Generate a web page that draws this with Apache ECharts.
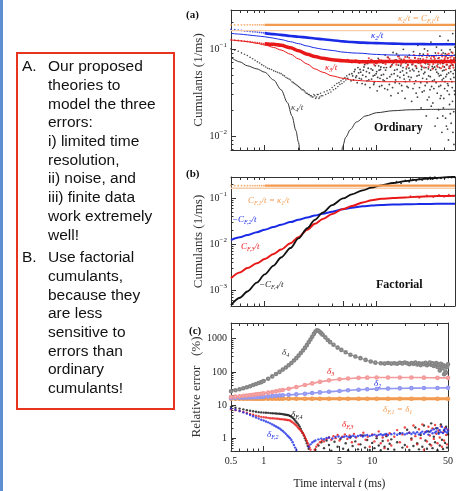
<!DOCTYPE html>
<html>
<head>
<meta charset="utf-8">
<script src="https://cdn.jsdelivr.net/npm/echarts@6/dist/echarts.min.js"></script>
<style>
  html, body { margin: 0; padding: 0; background: #fff; }
  #chart { width: 456px; height: 491px; }
</style>
</head>
<body>
<div id="chart"></div>
<script>
// ---- time axis (ms) ----
const xTickValues = [0.5, 1, 5, 10, 50];
const xMinorValues = [0.6, 0.7, 0.8, 0.9, 2, 3, 4, 6, 7, 8, 9, 20, 30, 40];

// shared sampling of the smooth curves
const tGrid = [0.5, 0.6, 0.7, 0.85, 1, 1.2, 1.4, 1.7, 2, 2.4, 2.8, 3.3, 4, 5, 6, 7.5, 9, 11, 14, 18, 23, 30, 40, 50];
// sparse data points at short t (look dotted on the log axis)
const tDots = [0.5, 0.54, 0.58, 0.62, 0.66, 0.7, 0.74, 0.78, 0.82, 0.86, 0.9, 0.94, 0.98];

// ---- (a) ordinary cumulants ----
const k1DotsA = [0.189, 0.189, 0.189, 0.189, 0.189, 0.189, 0.189, 0.189, 0.189, 0.189, 0.189, 0.189, 0.189];
const k1DataA = [null, null, null, null, 0.189, 0.189, 0.189, 0.189, 0.189, 0.189, 0.189, 0.189, 0.189, 0.189, 0.189, 0.189, 0.189, 0.189, 0.189, 0.189, 0.189, 0.189, 0.189, 0.189];
const k1TheoryA = [0.162, 0.162, 0.162, 0.162, 0.162, 0.162, 0.162, 0.162, 0.162, 0.162, 0.162, 0.162, 0.162, 0.162, 0.162, 0.162, 0.162, 0.162, 0.162, 0.162, 0.162, 0.162, 0.162, 0.162];
const k2DotsA = [0.168, 0.166, 0.164, 0.163, 0.161, 0.160, 0.159, 0.158, 0.157, 0.156, 0.155, 0.154, 0.153];
const k2DataA = [null, null, null, null, 0.152, 0.148, 0.145, 0.141, 0.138, 0.135, 0.132, 0.129, 0.126, 0.122, 0.120, 0.118, 0.117, 0.116, 0.115, 0.114, 0.114, 0.113, 0.113, 0.113];
const k2TheoryA = [0.151, 0.148, 0.145, 0.141, 0.138, 0.133, 0.128, 0.121, 0.115, 0.108, 0.103, 0.099, 0.096, 0.092, 0.090, 0.089, 0.087, 0.086, 0.085, 0.085, 0.084, 0.084, 0.084, 0.084];
const k3DotsA = [0.127, 0.126, 0.125, 0.124, 0.123, 0.122, 0.121, 0.120, 0.119, 0.118, 0.117, 0.116, 0.115];
const k3DataA = [null, null, null, null, 0.115, 0.113, 0.110, 0.103, 0.095, 0.087, 0.082, 0.078, 0.075, 0.073, 0.072, 0.071, 0.071, 0.0715, 0.0715, 0.0715, 0.0715, 0.0715, 0.0715, 0.0715];
const k3TheoryA = [0.127, 0.124, 0.121, 0.116, 0.111, 0.104, 0.097, 0.087, 0.077, 0.067, 0.059, 0.054, 0.049, 0.046, 0.044, 0.043, 0.0425, 0.042, 0.042, 0.042, 0.042, 0.042, 0.042, 0.042];
const k3NoiseA = [[8.5, 0.078], [9.5, 0.066], [10.5, 0.075], [11.5, 0.069], [12.5, 0.080], [13.5, 0.064], [14.5, 0.074], [15.5, 0.082], [16.5, 0.067], [17.5, 0.076], [18.5, 0.062], [19.5, 0.079], [20.5, 0.070], [21.5, 0.085], [22.5, 0.063], [23.5, 0.077], [24.5, 0.068], [25.5, 0.083], [26.5, 0.061], [27.5, 0.074], [28.5, 0.087], [29.5, 0.066], [30.5, 0.078], [31.5, 0.059], [32.5, 0.081], [33.5, 0.070], [34.5, 0.064], [35.5, 0.089], [36.5, 0.073], [37.5, 0.060], [38.5, 0.082], [39.5, 0.069], [40.5, 0.077], [41.5, 0.058], [42.5, 0.086], [43.5, 0.071], [44.5, 0.063], [45.5, 0.080], [46.5, 0.067], [47.5, 0.090], [48.5, 0.061], [49.5, 0.076],
  [5.5, 0.075], [6, 0.070], [6.5, 0.074], [7, 0.069], [7.5, 0.073], [8, 0.068], [9, 0.075], [10, 0.068], [11, 0.074], [12, 0.067], [13, 0.077], [14, 0.069], [15, 0.066], [16, 0.078], [17, 0.070], [18, 0.081], [19, 0.065], [20, 0.074], [21, 0.067], [22, 0.079], [23, 0.071], [24, 0.084], [25, 0.064], [26, 0.076], [27, 0.069], [28, 0.080], [29, 0.062], [30, 0.073], [31, 0.083], [32, 0.067], [33, 0.077], [34, 0.084], [35, 0.062], [36, 0.079], [37, 0.068], [38, 0.086], [39, 0.063], [40, 0.074], [41, 0.081], [42, 0.066], [43, 0.078], [44, 0.088], [45, 0.060], [46, 0.075], [47, 0.083], [48, 0.065], [49, 0.079], [50, 0.070]];
const k4TheoryLeftT = [0.5, 0.6, 0.7, 0.85, 1.0, 1.2, 1.4, 1.6, 1.75, 1.9, 2.0, 2.1, 2.2];
const k4TheoryLeft = [0.080, 0.071, 0.064, 0.059, 0.054, 0.044, 0.034, 0.024, 0.017, 0.0115, 0.0085, 0.0055, 0.003];
const k4TheoryRightT = [4.7, 4.8, 4.95, 5.3, 5.8, 6.6, 8, 10, 14, 20, 30, 50];
const k4TheoryRight = [0.0025, 0.005, 0.0075, 0.0097, 0.0118, 0.0145, 0.0170, 0.0185, 0.0195, 0.0200, 0.0202, 0.0203];
const k4TrendA = [[0.5, 0.100], [0.54, 0.097], [0.58, 0.094], [0.62, 0.090], [0.66, 0.087], [0.7, 0.084], [0.74, 0.080], [0.78, 0.077], [0.82, 0.074], [0.86, 0.071], [0.9, 0.069], [0.94, 0.066], [0.98, 0.064], [1.02, 0.062], [1.06, 0.060], [1.1, 0.059], [1.15, 0.058], [1.2, 0.056], [1.25, 0.055], [1.3, 0.054], [1.35, 0.053], [1.4, 0.052], [1.45, 0.050], [1.5, 0.049], [1.55, 0.047], [1.6, 0.046], [1.65, 0.045], [1.7, 0.044], [1.75, 0.042], [1.8, 0.041], [1.85, 0.040], [1.9, 0.039], [1.95, 0.038], [2.0, 0.037], [2.05, 0.036], [2.1, 0.035], [2.15, 0.034], [2.2, 0.034], [2.25, 0.033], [2.3, 0.032], [2.35, 0.031], [2.4, 0.031], [2.45, 0.030], [2.5, 0.030], [2.55, 0.029], [2.6, 0.029], [2.65, 0.028], [2.7, 0.028], [2.75, 0.030], [2.8, 0.029], [2.85, 0.027], [2.9, 0.028], [2.95, 0.030], [3.0, 0.030], [3.05, 0.027], [3.1, 0.028], [3.15, 0.031], [3.2, 0.029], [3.3, 0.029], [3.4, 0.032], [3.5, 0.030], [3.6, 0.033], [3.7, 0.031], [3.8, 0.034], [3.9, 0.032], [4.0, 0.036], [4.1, 0.034], [4.2, 0.038], [4.3, 0.035], [4.4, 0.040], [4.5, 0.037], [4.6, 0.041], [4.7, 0.039], [4.8, 0.043], [4.9, 0.040], [5.0, 0.045], [5.1, 0.042], [5.2, 0.047], [5.3, 0.044], [5.4, 0.049]];
const k4CloudA = [[5.5, 0.046], [5.7, 0.051], [5.9, 0.043], [6.1, 0.049], [6.3, 0.055], [6.5, 0.047], [6.7, 0.041], [6.9, 0.053], [7.1, 0.058], [7.3, 0.045], [7.5, 0.050], [7.7, 0.062], [7.9, 0.039],
  [8.1, 0.055], [8.3, 0.068], [8.5, 0.044], [8.7, 0.036], [8.9, 0.059], [9.1, 0.071], [9.3, 0.049], [9.5, 0.041], [9.7, 0.064], [9.9, 0.052], [10.1, 0.033], [10.3, 0.078], [10.5, 0.057], [10.7, 0.046], [10.9, 0.062], [11.1, 0.038], [11.3, 0.069], [11.5, 0.051], [11.7, 0.043], [11.9, 0.085],
  [12.2, 0.061], [12.5, 0.034], [12.8, 0.072], [13.1, 0.048], [13.4, 0.029], [13.7, 0.066], [14, 0.091], [14.3, 0.052], [14.6, 0.041], [14.9, 0.075], [15.2, 0.058], [15.5, 0.031], [15.8, 0.083], [16.1, 0.047], [16.4, 0.064], [16.7, 0.038], [17, 0.056], [17.3, 0.099], [17.6, 0.045], [17.9, 0.027], [18.2, 0.069], [18.5, 0.053], [18.8, 0.081], [19.1, 0.036], [19.4, 0.060], [19.7, 0.044],
  [20.1, 0.072], [20.5, 0.025], [20.9, 0.058], [21.3, 0.093], [21.7, 0.040], [22.1, 0.064], [22.5, 0.031], [22.9, 0.049], [23.3, 0.110], [23.7, 0.055], [24.1, 0.036], [24.5, 0.077], [24.9, 0.021], [25.3, 0.062], [25.7, 0.046], [26.1, 0.087], [26.5, 0.033], [26.9, 0.054], [27.3, 0.068], [27.7, 0.017], [28.1, 0.041], [28.5, 0.095], [28.9, 0.059], [29.3, 0.028], [29.7, 0.071], [30.1, 0.048], [30.5, 0.120], [30.9, 0.037], [31.3, 0.063], [31.7, 0.024],
  [32.2, 0.082], [32.7, 0.044], [33.2, 0.013], [33.5, 0.071], [33.7, 0.058], [34.2, 0.105], [34.7, 0.031], [35.2, 0.067], [35.5, 0.052], [35.7, 0.020], [36.2, 0.049], [36.7, 0.140], [37.2, 0.038], [37.5, 0.029], [37.7, 0.074], [38.2, 0.011], [38.7, 0.056], [38.9, 0.017], [39.2, 0.090], [39.5, 0.046], [39.7, 0.027], [40.2, 0.062], [40.7, 0.042], [41.2, 0.016], [41.5, 0.083], [41.7, 0.115], [42.2, 0.051], [42.7, 0.033], [42.9, 0.012], [43.2, 0.079], [43.5, 0.038], [43.7, 0.009], [44.2, 0.060], [44.7, 0.023], [45.2, 0.098], [45.5, 0.064], [45.7, 0.045], [46.2, 0.014], [46.7, 0.070], [47.2, 0.036], [47.5, 0.025], [47.7, 0.150], [48.2, 0.052], [48.7, 0.019], [48.9, 0.008], [49.2, 0.085], [49.5, 0.057], [49.7, 0.030],
  [6.0, 0.052], [6.2, 0.044], [6.4, 0.058], [6.6, 0.049], [6.8, 0.061], [7.0, 0.046], [7.2, 0.054], [7.4, 0.040], [7.6, 0.057], [7.8, 0.066], [8.0, 0.048], [8.2, 0.043], [8.4, 0.060], [8.6, 0.053], [8.8, 0.074], [9.0, 0.045], [9.2, 0.057], [9.4, 0.039], [9.6, 0.050], [9.8, 0.069], [10.0, 0.055], [10.2, 0.047], [10.4, 0.064], [10.6, 0.037], [10.8, 0.058], [11.0, 0.050], [11.2, 0.073], [11.4, 0.044], [11.6, 0.061], [11.8, 0.035],
  [12.0, 0.057], [12.35, 0.046], [12.65, 0.080], [12.95, 0.039], [13.25, 0.062], [13.55, 0.051], [13.85, 0.036], [14.15, 0.070], [14.45, 0.057], [14.75, 0.044], [15.05, 0.088], [15.35, 0.049], [15.65, 0.065], [15.95, 0.040], [16.25, 0.054], [16.55, 0.076], [16.85, 0.033], [17.15, 0.061], [17.45, 0.050], [17.75, 0.071], [18.05, 0.042], [18.35, 0.059], [18.65, 0.037], [18.95, 0.066], [19.25, 0.048], [19.55, 0.085], [19.85, 0.056],
  [20.3, 0.047], [20.7, 0.066], [21.1, 0.035], [21.5, 0.056], [21.9, 0.079], [22.3, 0.043], [22.7, 0.060], [23.1, 0.028], [23.5, 0.069], [23.9, 0.050], [24.3, 0.088], [24.7, 0.041], [25.1, 0.058], [25.5, 0.032], [25.9, 0.073], [26.3, 0.052], [26.7, 0.100], [27.1, 0.038], [27.5, 0.061], [27.9, 0.045], [28.3, 0.026], [28.7, 0.067], [29.1, 0.049], [29.5, 0.083], [29.9, 0.034], [30.3, 0.057], [30.7, 0.022], [31.1, 0.074], [31.5, 0.043], [31.9, 0.060],
  [32.4, 0.035], [32.9, 0.062], [33.4, 0.090], [33.9, 0.041], [34.4, 0.054], [34.9, 0.016], [35.4, 0.078], [35.9, 0.037], [36.4, 0.061], [36.9, 0.027], [37.4, 0.050], [37.9, 0.097], [38.4, 0.044], [38.9, 0.068], [39.4, 0.021], [39.9, 0.057], [40.4, 0.035], [40.9, 0.088], [41.4, 0.048], [41.9, 0.013], [42.4, 0.066], [42.9, 0.040], [43.4, 0.125], [43.9, 0.053], [44.4, 0.030], [44.9, 0.072], [45.4, 0.018], [45.9, 0.055], [46.4, 0.092], [46.9, 0.042], [47.4, 0.065], [47.9, 0.011], [48.4, 0.076], [48.9, 0.047], [49.4, 0.033], [49.9, 0.105]];

// ---- (b) factorial cumulants ----
const k1DotsB = [0.185, 0.185, 0.185, 0.185, 0.185, 0.185, 0.185, 0.185, 0.185, 0.185, 0.185, 0.185, 0.185];
const k1DataB = [null, null, null, null, 0.185, 0.185, 0.185, 0.185, 0.185, 0.185, 0.185, 0.185, 0.185, 0.185, 0.185, 0.185, 0.185, 0.185, 0.185, 0.185, 0.185, 0.185, 0.185, 0.185];
const k1TheoryB = [0.163, 0.163, 0.163, 0.163, 0.163, 0.163, 0.163, 0.163, 0.163, 0.163, 0.163, 0.163, 0.163, 0.163, 0.163, 0.163, 0.163, 0.163, 0.163, 0.163, 0.163, 0.163, 0.163, 0.163];
const cf2B = [0.0122, 0.0140, 0.0157, 0.0181, 0.0204, 0.0233, 0.0263, 0.0300, 0.0335, 0.0378, 0.0415, 0.0455, 0.0505, 0.0570, 0.0615, 0.0660, 0.0685, 0.0705, 0.0720, 0.0732, 0.0740, 0.0745, 0.0750, 0.0750];
const cf3B = [0.0018, 0.0024, 0.0030, 0.0038, 0.0047, 0.0061, 0.0076, 0.0104, 0.0141, 0.0205, 0.0275, 0.0350, 0.0450, 0.0575, 0.0670, 0.0800, 0.0890, 0.0960, 0.1000, 0.1030, 0.1060, 0.1090, 0.1110, 0.1120];
const cf4B = [0.00047, 0.00068, 0.00093, 0.00145, 0.0022, 0.0034, 0.0051, 0.0082, 0.0132, 0.0220, 0.0335, 0.0480, 0.0700, 0.0980, 0.1200, 0.1470, 0.1680, 0.1880, 0.2120, 0.2330, 0.2520, 0.2680, 0.2820, 0.2900];
const cf4NoiseB = [[15, 0.225], [16.5, 0.209], [18, 0.241], [19.5, 0.226], [21, 0.252], [22.5, 0.238], [24, 0.262], [25.5, 0.247], [27, 0.271], [28.5, 0.255], [30, 0.279], [31.5, 0.260], [33, 0.283], [34.5, 0.266], [36, 0.290], [37.5, 0.270], [39, 0.294], [40.5, 0.275], [42, 0.297], [43.5, 0.279], [45, 0.300], [46.5, 0.280], [48, 0.302], [49.5, 0.284]];
const cf3NoiseB = [[20, 0.109], [24, 0.101], [28, 0.113], [32, 0.105], [36, 0.116], [40, 0.107], [44, 0.118], [48, 0.110]];

// ---- (c) relative errors (%) ----
const tGridC = [0.5, 0.55, 0.6, 0.65, 0.7, 0.75, 0.8, 0.85, 0.9, 0.95, 1.0, 1.1, 1.2, 1.3, 1.4, 1.5, 1.7, 2, 2.4, 2.8, 3.3, 4, 5, 6, 7.5, 9, 11, 14, 18, 23, 30, 40, 50];
const d1C = [15.5, 15.5, 15.5, 15.5, 15.5, 15.5, 15.5, 15.5, 15.5, 15.5, 15.5, 15.5, 15.5, 15.5, 15.5, 15.5, 15.5, 15.5, 15.5, 15.5, 15.5, 15.5, 15.5, 15.5, 15.5, 15.5, 15.5, 15.5, 15.5, 15.5, 15.5, 15.5, 15.5];
const d2C = [16.2, 16.3, 16.5, 16.6, 16.8, 16.9, 17.1, 17.3, 17.4, 17.6, 17.8, 18.2, 18.6, 19.0, 19.4, 19.7, 20.3, 21.0, 22.0, 23.0, 24.0, 25.2, 26.6, 27.8, 29.0, 29.8, 30.6, 31.3, 31.9, 32.3, 32.6, 32.8, 33.0];
const d3C = [17.4, 17.9, 18.4, 18.9, 19.4, 19.9, 20.4, 20.9, 21.4, 21.9, 22.5, 23.6, 24.8, 26.0, 27.3, 28.5, 31, 35, 40, 45, 50, 55.5, 60, 63, 66, 67, 68, 68, 68, 68, 67, 66, 66];
const d4C = [[0.5, 26], [0.55, 28], [0.6, 30], [0.65, 32], [0.7, 34.5], [0.75, 37], [0.8, 40], [0.85, 43], [0.9, 46], [0.95, 49], [1.0, 53], [1.1, 62], [1.2, 73], [1.3, 86], [1.4, 100], [1.5, 117], [1.6, 136], [1.7, 158], [1.8, 185], [1.9, 220], [2.0, 260], [2.1, 310], [2.2, 370], [2.3, 440], [2.4, 530], [2.5, 640], [2.6, 780], [2.7, 950], [2.8, 1150], [2.9, 1400], [3.0, 1650], [3.1, 1800], [3.2, 1750], [3.3, 1600], [3.4, 1450], [3.5, 1320], [3.7, 1100], [3.9, 920], [4.1, 790], [4.4, 660], [4.8, 540], [5.2, 460], [5.7, 390], [6.3, 330], [7, 290], [7.8, 260], [8.7, 230], [9.7, 205], [10.7, 190], [12, 182], [13, 178], [14, 185], [15, 178], [16, 183], [17, 176], [18, 188], [19, 180], [20, 192], [21, 183], [22, 170], [23, 186], [24, 175], [25, 190], [26, 168], [27, 182], [28, 160], [29, 178], [30, 170], [31, 187], [32, 158], [33, 175], [34, 190], [35, 163], [36, 180], [37, 150], [38, 172], [39, 185], [40, 140], [41, 168], [42, 110], [43, 176], [44, 130], [45, 160], [46, 85], [47, 150], [48, 95], [49, 140], [50, 170]];
const dF4C = [[0.5, 8.8], [0.55, 8.3], [0.6, 7.8], [0.65, 7.4], [0.7, 7.0], [0.75, 6.7], [0.8, 6.5], [0.85, 6.3], [0.9, 6.1], [0.95, 6.0], [1.0, 5.9], [1.05, 5.85], [1.1, 5.8], [1.15, 5.7], [1.2, 5.65], [1.25, 5.6], [1.3, 5.55], [1.35, 5.5], [1.4, 5.45], [1.45, 5.4], [1.5, 5.3], [1.55, 5.2], [1.6, 5.1], [1.65, 5.0], [1.7, 4.9], [1.75, 4.7], [1.8, 4.4], [1.85, 4.1], [1.9, 3.8], [1.95, 3.4], [2.0, 3.1], [2.05, 2.8], [2.1, 2.5], [2.15, 2.2], [2.2, 1.9], [2.25, 1.6], [2.3, 1.4], [2.35, 1.2], [2.4, 1.0], [2.45, 0.85], [2.5, 0.70], [2.55, 0.58], [2.6, 0.48],
  [3.0, 0.45], [3.2, 0.60], [3.4, 0.75], [3.6, 0.50], [3.8, 0.85], [4.0, 0.62], [4.2, 0.42], [4.5, 0.78], [4.8, 0.55], [5.1, 0.95], [5.4, 0.48], [5.7, 0.70], [6.0, 0.43], [6.3, 1.05], [6.6, 0.58], [7.0, 0.80], [7.4, 0.46], [7.8, 0.65], [8.2, 1.20], [8.6, 0.52], [9.0, 0.88], [9.5, 0.44], [10, 0.72], [10.5, 0.50], [11, 1.00], [11.5, 0.60], [12, 0.43], [12.5, 0.82], [13, 0.55], [13.5, 1.15], [14, 0.47], [14.5, 0.68], [15, 0.92], [16, 0.45], [17, 0.75], [18, 1.40], [19, 0.52], [20, 0.62], [21, 1.80], [22, 0.44], [23, 0.98], [24, 0.58], [25, 2.10], [26, 0.70], [27, 0.46], [28, 1.25], [29, 0.55], [30, 2.40], [31, 0.85], [32, 0.48], [33, 1.60], [34, 0.65], [35, 2.80], [36, 0.50], [37, 1.10], [38, 0.75], [39, 2.00], [40, 0.43], [41, 1.45], [42, 0.60], [43, 2.60], [44, 0.90], [45, 0.47], [46, 1.70], [47, 0.72], [48, 2.20], [49, 0.52], [50, 1.30]];
const dF3C = [[0.5, 7.5], [0.55, 7.0], [0.6, 6.6], [0.65, 6.2], [0.7, 5.8], [0.75, 5.4], [0.8, 5.1], [0.85, 4.8], [0.9, 4.6], [0.95, 4.4], [1.0, 4.3], [1.05, 4.2], [1.1, 4.1], [1.15, 4.0], [1.2, 4.0], [1.25, 3.95], [1.3, 3.9], [1.35, 3.85], [1.4, 3.8], [1.45, 3.75], [1.5, 3.7], [1.55, 3.65], [1.6, 3.6], [1.65, 3.55], [1.7, 3.5], [1.75, 3.4], [1.8, 3.2], [1.85, 3.0], [1.9, 2.8], [1.95, 2.6], [2.0, 2.4], [2.05, 2.2], [2.1, 2.0], [2.15, 1.85], [2.2, 1.7], [2.25, 1.55], [2.3, 1.4], [2.35, 1.25], [2.4, 1.1], [2.45, 0.95], [2.5, 0.82], [2.55, 0.70], [2.6, 0.60], [2.65, 0.52], [2.7, 0.45],
  [2.95, 0.45], [3.05, 0.55], [3.15, 0.65], [3.3, 0.75], [3.45, 0.85], [3.6, 0.80], [3.8, 0.95], [4.0, 1.05], [4.2, 0.90], [4.4, 1.15], [4.6, 1.00], [4.8, 1.25], [5.0, 0.85], [5.3, 1.10], [5.6, 1.30], [5.9, 0.95], [6.2, 1.20], [6.5, 0.75], [6.8, 1.35], [7.1, 1.05], [7.5, 0.65], [7.9, 1.20], [8.3, 1.45], [8.7, 0.90], [9.1, 1.10], [9.5, 0.55], [10, 1.30], [10.5, 0.80], [11, 1.15], [11.5, 1.60], [12, 0.70], [12.5, 1.05], [13, 0.50], [13.5, 1.25], [14, 0.85], [14.5, 1.40], [15, 0.60], [16, 1.10], [17, 1.75], [18, 0.75], [19, 1.30], [20, 2.10], [21, 0.55], [22, 1.45], [23, 0.90], [24, 2.40], [25, 1.15], [26, 0.65], [27, 1.85], [28, 1.00], [29, 2.60], [30, 0.45], [31, 1.55], [32, 0.80], [33, 2.20], [34, 1.20], [35, 0.60], [36, 1.95], [37, 0.95], [38, 2.50], [39, 1.35], [40, 0.70], [41, 1.70], [42, 1.05], [43, 2.30], [44, 0.55], [45, 1.50], [46, 0.85], [47, 2.05], [48, 1.25], [49, 0.65], [50, 1.80]];
const dF2C = [[0.5, 7.8], [0.55, 7.2], [0.6, 6.6], [0.65, 6.0], [0.7, 5.5], [0.75, 5.0], [0.8, 4.6], [0.85, 4.2], [0.9, 3.9], [0.95, 3.6], [1.0, 3.4], [1.05, 3.2], [1.1, 3.0], [1.15, 2.8], [1.2, 2.6], [1.25, 2.4], [1.3, 2.25], [1.35, 2.1], [1.4, 1.95], [1.45, 1.8], [1.5, 1.65], [1.55, 1.5], [1.6, 1.35], [1.65, 1.2], [1.7, 1.1], [1.75, 1.0], [1.8, 0.88], [1.85, 0.75], [1.9, 0.62], [1.95, 0.52], [2.0, 0.44],
  [2.6, 0.55], [2.7, 0.65], [2.8, 0.74], [2.9, 0.80], [3.0, 0.85], [3.2, 0.92], [3.4, 0.97], [3.6, 0.93], [3.8, 1.02], [4.0, 1.05], [4.3, 0.98], [4.6, 1.08], [4.9, 1.12], [5.2, 1.04], [5.5, 1.10], [5.8, 1.15], [6.1, 1.07], [6.4, 1.13], [6.7, 1.18], [7, 1.10], [7.4, 1.16], [7.8, 1.22], [8.2, 1.12], [8.6, 1.20], [9, 1.25], [9.5, 1.17], [10, 1.23], [10.5, 1.28], [11, 1.19], [11.5, 1.26], [12, 1.31], [12.5, 1.22], [13, 1.29], [13.5, 1.35], [14, 1.24], [15, 1.32], [16, 1.38], [17, 1.27], [18, 1.36], [19, 1.42], [20, 1.30], [21, 1.39], [22, 1.45], [23, 1.33], [24, 1.48], [25, 1.36], [26, 1.52], [27, 1.30], [28, 1.44], [29, 1.58], [30, 1.35], [31, 1.50], [32, 1.62], [33, 1.28], [34, 1.55], [35, 1.70], [36, 1.40], [37, 1.85], [38, 1.47], [39, 1.60], [40, 2.0], [41, 1.35], [42, 1.75], [43, 1.52], [44, 2.2], [45, 1.42], [46, 1.80], [47, 1.58], [48, 1.95], [49, 1.48], [50, 1.70]];

// ---- axes ranges / tick labels ----
const yRanges = [[0.0069, 0.28], [0.00045, 0.286], [0.41, 2985]];
const yTickValues = [[0.01, 0.1], [0.001, 0.01, 0.1], [1, 10, 100, 1000]];
const yNames = ['Cumulants (1/ms)', 'Cumulants (1/ms)', 'Relative error   (%)'];

const ORANGE = '#F29B50';
const ORANGE_LIGHT = '#F7CDA8';
const BLUE = '#1A2BE6';
const RED = '#E81818';
const RED_LIGHT = '#F39A9A';
const BLUE_LIGHT = '#9298F2';
const GREY = '#858585';
const SERIF = '"Liberation Serif", "DejaVu Serif", serif';
const FRAME = { color: '#333', width: 1 };

const grids = [
  { left: 231, top: 10, width: 224, height: 140 },
  { left: 231, top: 177, width: 224, height: 129 },
  { left: 231, top: 323, width: 224, height: 130 }
];

const zip = (ts, vs) => ts.map((t, i) => [t, vs[i]]);

// minor ticks 2..9 in every decade (axis decoration only)
const minorTicks = (lo, hi) => {
  const out = [];
  for (let e = Math.floor(Math.log10(lo)); e <= Math.ceil(Math.log10(hi)); e++) {
    for (let m = 2; m <= 9; m++) {
      const v = m * Math.pow(10, e);
      if (v > lo && v < hi) out.push(v);
    }
  }
  return out;
};

const xAxes = [];
const yAxes = [];
grids.forEach((g, i) => {
  const xc = { gridIndex: i, type: 'log', min: 0.5, max: 50, splitLine: { show: false } };
  xAxes.push({
    ...xc, position: 'bottom',
    axisLine: { show: true, onZero: false, lineStyle: FRAME },
    axisTick: { show: true, inside: true, length: 5, customValues: xTickValues, lineStyle: FRAME },
    axisLabel: {
      show: i === 2, customValues: xTickValues, formatter: (v) => String(+v.toPrecision(3)),
      alignMinLabel: 'center', alignMaxLabel: 'center',
      margin: 5, fontFamily: SERIF, fontSize: 10, color: '#222'
    },
    name: i === 2 ? '{n|Time interval }{i|t}{n| (ms)}' : '',
    nameLocation: 'middle', nameGap: 27,
    nameTextStyle: {
      rich: {
        n: { fontFamily: SERIF, fontSize: 11.5, color: '#222' },
        i: { fontFamily: SERIF, fontSize: 11.5, fontStyle: 'italic', color: '#222' }
      }
    }
  });
  xAxes.push({
    ...xc, position: 'bottom',
    axisLine: { show: false, onZero: false },
    axisTick: { show: true, inside: true, length: 2.5, customValues: xMinorValues, lineStyle: FRAME },
    axisLabel: { show: false }
  });
  xAxes.push({
    ...xc, position: 'top',
    axisLine: { show: true, onZero: false, lineStyle: FRAME },
    axisTick: { show: true, inside: true, length: 3, customValues: xTickValues.concat(xMinorValues), lineStyle: FRAME },
    axisLabel: { show: false }
  });

  const [lo, hi] = yRanges[i];
  const yc = { gridIndex: i, type: 'log', min: lo, max: hi, splitLine: { show: false } };
  yAxes.push({
    ...yc, position: 'left',
    axisLine: { show: true, onZero: false, lineStyle: FRAME },
    axisTick: { show: true, inside: true, length: 5, customValues: yTickValues[i], lineStyle: FRAME },
    axisLabel: {
      customValues: yTickValues[i], margin: 4,
      formatter: i === 2
        ? (v) => String(Math.round(v))
        : (v) => '{b|10}{s|\u2212' + (-Math.round(Math.log10(v))) + '}',
      fontFamily: SERIF, fontSize: 10, color: '#222',
      rich: {
        b: { fontFamily: SERIF, fontSize: 10, color: '#222', lineHeight: 14 },
        s: { fontFamily: SERIF, fontSize: 7, color: '#222', lineHeight: 8, verticalAlign: 'top' }
      }
    },
    name: yNames[i], nameLocation: 'middle', nameGap: 26,
    nameTextStyle: { fontFamily: SERIF, fontSize: 13, color: '#333' }
  });
  yAxes.push({
    ...yc, position: 'left',
    axisLine: { show: false, onZero: false },
    axisTick: { show: true, inside: true, length: 2.5, customValues: minorTicks(lo, hi), lineStyle: FRAME },
    axisLabel: { show: false }
  });
  yAxes.push({
    ...yc, position: 'right',
    axisLine: { show: true, onZero: false, lineStyle: FRAME },
    axisTick: { show: false },
    axisLabel: { show: false }
  });
});

const line = (g, data, color, width, extra) => Object.assign({
  type: 'line', xAxisIndex: 3 * g, yAxisIndex: 3 * g, data,
  showSymbol: false, smooth: 0.3, smoothMonotone: 'x', connectNulls: false,
  lineStyle: { color, width }, itemStyle: { color }, silent: true
}, extra || {});
const dots = (g, data, color, size, symbol) => ({
  type: 'scatter', xAxisIndex: 3 * g, yAxisIndex: 3 * g, data,
  symbol: symbol || 'circle', symbolSize: size, itemStyle: { color }, silent: true
});
const ringLine = (g, data, color, width, size) => line(g, data, color, width, {
  showSymbol: true, showAllSymbol: true, symbol: 'emptyCircle', symbolSize: size,
  itemStyle: { color, borderWidth: 0.7 }
});

const series = [
  // (a)
  line(0, zip(tGrid, k1TheoryA), ORANGE_LIGHT, 1.3),
  line(0, zip(tGrid, k2TheoryA), BLUE, 1),
  line(0, zip(tGrid, k3TheoryA), RED, 1),
  line(0, zip(k4TheoryLeftT, k4TheoryLeft), '#333', 1),
  line(0, zip(k4TheoryRightT, k4TheoryRight), '#333', 1),
  dots(0, k4TrendA, '#222', 1.6),
  dots(0, k4CloudA, '#111', 1.8),
  dots(0, k3NoiseA, RED, 2.2),
  line(0, zip(tGrid, k3DataA), RED, 3.5),
  dots(0, zip(tDots, k3DotsA), RED, 1.8),
  line(0, zip(tGrid, k2DataA), BLUE, 2.6),
  dots(0, zip(tDots, k2DotsA), BLUE, 1.8),
  line(0, zip(tGrid, k1DataA), ORANGE, 2.2),
  dots(0, zip(tDots, k1DotsA), ORANGE, 1.8),
  // (b)
  line(1, zip(tGrid, k1TheoryB), ORANGE_LIGHT, 1.3),
  line(1, zip(tGrid, cf2B), BLUE, 2),
  line(1, zip(tGrid, cf3B), RED, 2),
  dots(1, cf3NoiseB, RED, 2),
  line(1, zip(tGrid, cf4B), '#111', 1.8),
  dots(1, cf4NoiseB, '#111', 2),
  line(1, zip(tGrid, k1DataB), ORANGE, 2.2),
  dots(1, zip(tDots, k1DotsB), ORANGE, 1.8),
  // (c)
  ringLine(2, zip(tGridC, d1C), ORANGE, 3, 2.6),
  ringLine(2, zip(tGridC, d2C), BLUE_LIGHT, 1.6, 2.6),
  ringLine(2, zip(tGridC, d3C), RED_LIGHT, 1.6, 2.6),
  ringLine(2, d4C, GREY, 1, 2.6),
  dots(2, dF4C, '#111', 2.4),
  dots(2, dF3C, RED, 2.4),
  dots(2, dF2C, BLUE, 2.4)
];

// in-plot annotations (rich text: i = italic, s = subscript)
const richNote = {
  i: { fontFamily: SERIF, fontStyle: 'italic', fontSize: 9, lineHeight: 11 },
  s: { fontFamily: SERIF, fontStyle: 'italic', fontSize: 6, lineHeight: 7, verticalAlign: 'bottom' },
  b: { fontFamily: SERIF, fontWeight: 'bold', fontSize: 12, lineHeight: 14 }
};
const notes = [
  [398, 19, '{i|κ}{s|1}{i|/t = C}{s|F,1}{i|/t}', ORANGE],
  [371, 36, '{i|κ}{s|2}{i|/t}', BLUE],
  [325, 68, '{i|κ}{s|3}{i|/t}', RED],
  [291, 108, '{i|κ}{s|4}{i|/t}', '#444'],
  [374, 128, '{b|Ordinary}', '#111'],
  [248, 201, '{i|C}{s|F,1}{i|/t = κ}{s|1}{i|/t}', ORANGE],
  [232, 220, '{i|−C}{s|F,2}{i|/t}', BLUE],
  [241, 247, '{i|C}{s|F,3}{i|/t}', RED],
  [259, 285, '{i|−C}{s|F,4}{i|/t}', '#222'],
  [376, 285, '{b|Factorial}', '#111'],
  [282, 353, '{i|δ}{s|4}', '#333'],
  [327, 372, '{i|δ}{s|3}', RED],
  [374, 384, '{i|δ}{s|2}', BLUE],
  [383, 410, '{i|δ}{s|F,1}{i| = δ}{s|1}', ORANGE],
  [291, 415, '{i|δ}{s|F,4}', '#111'],
  [342, 425, '{i|δ}{s|F,3}', RED],
  [267, 435, '{i|δ}{s|F,2}', BLUE]
];

const bodyFont = '15.5px "Liberation Sans", Arial, sans-serif';
const linesA = ['Our proposed', 'theories to', 'model the three', 'errors:', 'i) limited time', 'resolution,', 'ii) noise, and', 'iii) finite data', 'work extremely', 'well!'];
const linesB = ['Use factorial', 'cumulants,', 'because they', 'are less', 'sensitive to', 'errors than', 'ordinary', 'cumulants!'];

const graphic = [
  { type: 'rect', shape: { x: 0, y: 0, width: 3, height: 491 }, style: { fill: '#5E8FD0' } },
  { type: 'rect', shape: { x: 17, y: 53, width: 157, height: 356 }, style: { fill: '#fff', stroke: '#E8331F', lineWidth: 2 } },
  { type: 'text', x: 22, y: 57.6, style: { text: 'A.', font: bodyFont, fill: '#111', lineHeight: 18.7 } },
  { type: 'text', x: 48, y: 57.6, style: { text: linesA.join('\n'), font: bodyFont, fill: '#111', lineHeight: 18.7 } },
  { type: 'text', x: 22, y: 248.6, style: { text: 'B.', font: bodyFont, fill: '#111', lineHeight: 18.7 } },
  { type: 'text', x: 48, y: 248.6, style: { text: linesB.join('\n'), font: bodyFont, fill: '#111', lineHeight: 18.7 } },
  { type: 'text', x: 186, y: 15, style: { text: '(a)', font: 'bold 11px ' + SERIF, fill: '#111', verticalAlign: 'middle' } },
  { type: 'text', x: 186, y: 174, style: { text: '(b)', font: 'bold 11px ' + SERIF, fill: '#111', verticalAlign: 'middle' } },
  { type: 'text', x: 189, y: 331, style: { text: '(c)', font: 'bold 11px ' + SERIF, fill: '#111', verticalAlign: 'middle' } }
].concat(notes.map(([x, y, text, color]) => ({
  type: 'text', x, y, z: 100,
  style: { text, fill: color, rich: richNote, verticalAlign: 'middle', font: 'italic 9px ' + SERIF }
})));

const chart = echarts.init(document.getElementById('chart'), null, { renderer: 'canvas' });
chart.setOption({
  animation: false,
  backgroundColor: '#fff',
  grid: grids,
  xAxis: xAxes,
  yAxis: yAxes,
  series,
  graphic
});
</script>
</body>
</html>
